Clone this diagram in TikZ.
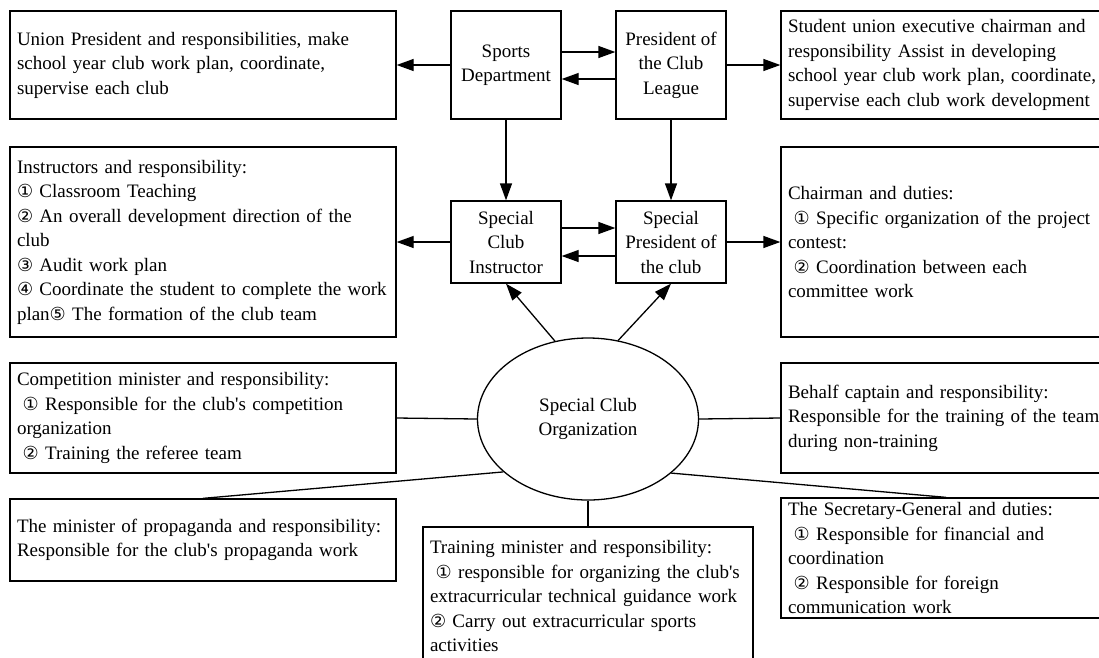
\documentclass[tikz,border=0pt]{standalone}
\usepackage{fontspec}
\setmainfont{Liberation Serif}
\newfontfamily\circfont{DejaVu Sans}
\usetikzlibrary{arrows.meta,shapes.geometric}

\newcommand{\cnum}[1]{{\circfont\fontsize{18}{24.5}\selectfont #1}}

\tikzset{
    duty/.style={draw, line width=1.3pt, rectangle, align=left, inner xsep=7pt, inner ysep=0pt,
        text width=#1, font=\fontsize{19}{24.5}\selectfont},
    post/.style={draw, line width=1.3pt, rectangle, align=center, inner sep=0pt,
        minimum width=110pt, font=\fontsize{19}{24.5}\selectfont},
    link/.style={line width=1.3pt},
    flow/.style={link, -{Triangle[length=17pt,width=12pt]}},
}

\begin{document}
\begin{tikzpicture}[x=1pt, y=-1pt]
    \useasboundingbox (0,0) rectangle (1099,657);

    % posts in the middle: two rows of two
    \node[post, minimum height=108pt] (sports) at (506,65) {Sports\\Department};
    \node[post, minimum height=108pt] (league) at (671,65) {President of\\the Club\\League};
    \node[post, minimum height=82pt] (instructor) at (506,242) {Special\\Club\\Instructor};
    \node[post, minimum height=82pt] (president) at (671,242) {Special\\President of\\the club};

    % the organization itself
    \node[draw, ellipse, line width=1.3pt, inner sep=0pt, minimum width=221pt, minimum height=162pt,
        align=center, font=\fontsize{19}{24.5}\selectfont] (org) at (588,419) {Special Club\\Organization};

    % duty boxes, left column
    \node[duty=372pt, minimum height=108pt] (union) at (203,65)
        {Union President and responsibilities, make\\school year club work plan, coordinate,\\supervise each club};
    \node[duty=372pt, minimum height=190pt] (instrduty) at (203,242)
        {Instructors and responsibility:\\\cnum{①} Classroom Teaching\\\cnum{②} An overall development direction of the\\club\\\cnum{③} Audit work plan\\\cnum{④} Coordinate the student to complete the work\\plan\cnum{⑤} The formation of the club team};
    \node[duty=372pt, minimum height=110pt] (competition) at (203,418)
        {Competition minister and responsibility:\\\hspace{.3em}\cnum{①} Responsible for the club\textquotesingle s competition\\organization\\\hspace{.3em}\cnum{②} Training the referee team};
    \node[duty=372pt, minimum height=82pt] (propaganda) at (203,540)
        {The minister of propaganda and responsibility:\\Responsible for the club\textquotesingle s propaganda work};

    % duty boxes, right column (they run past the right edge)
    \node[duty=316pt, minimum height=108pt] (student) at (946,65)
        {Student union executive chairman and\\responsibility Assist in developing\\school year club work plan, coordinate,\\supervise each club work development};
    \node[duty=316pt, minimum height=190pt] (chairman) at (946,242)
        {Chairman and duties:\\\hspace{.3em}\cnum{①} Specific organization of the project\\contest:\\\hspace{.3em}\cnum{②} Coordination between each\\committee work};
    \node[duty=316pt, minimum height=110pt] (captain) at (946,418)
        {Behalf captain and responsibility:\\Responsible for the training of the team\\during non-training};
    \node[duty=316pt, minimum height=120pt] (secretary) at (946,558)
        {The Secretary-General and duties:\\\hspace{.3em}\cnum{①} Responsible for financial and\\coordination\\\hspace{.3em}\cnum{②} Responsible for foreign\\communication work};

    % bottom box, runs past the lower edge
    \node[duty=316pt, minimum height=138pt] (training) at (588,596)
        {Training minister and responsibility:\\\hspace{.3em}\cnum{①} responsible for organizing the club\textquotesingle s\\extracurricular technical guidance work\\\cnum{②} Carry out extracurricular sports\\activities};

    % arrows between the posts
    \draw[flow] ([yshift=13pt]sports.east) -- ([yshift=13pt]league.west);
    \draw[flow] ([yshift=-14pt]league.west) -- ([yshift=-14pt]sports.east);
    \draw[flow] ([yshift=14pt]instructor.east) -- ([yshift=14pt]president.west);
    \draw[flow] ([yshift=-14pt]president.west) -- ([yshift=-14pt]instructor.east);
    \draw[flow] (sports) -- (instructor);
    \draw[flow] (league) -- (president);

    % arrows out to the duty boxes
    \draw[flow] (sports) -- (union);
    \draw[flow] (league) -- (student);
    \draw[flow] (instructor) -- (instrduty);
    \draw[flow] (president) -- (chairman);

    % organization up to the two posts
    \draw[flow] (org.113) -- (instructor.south);
    \draw[flow] (org.69) -- (president.south);

    % plain lines from the organization
    \draw[link] (org.west) -- (competition.east);
    \draw[link] (org.212) -- (propaganda.north);
    \draw[link] (org.east) -- (captain.west);
    \draw[link] (org.327) -- (secretary.north);
    \draw[link] (org.south) -- (training.north);
\end{tikzpicture}
\end{document}
